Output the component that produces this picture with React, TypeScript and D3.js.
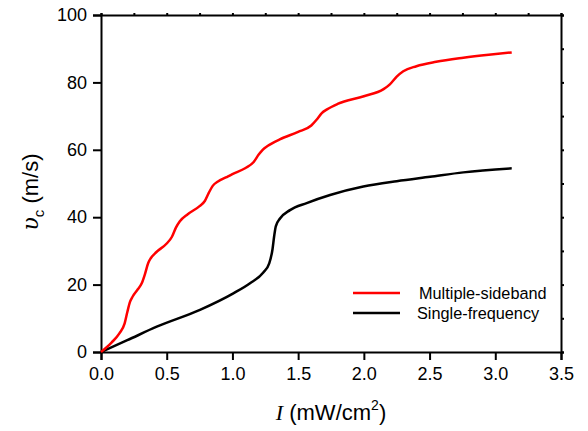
import React, { useEffect, useRef } from 'react';
import * as d3 from 'd3';

// Multiple-sideband curve (red)
const msbI = [0, 0.08, 0.14, 0.18, 0.2, 0.22, 0.24, 0.28, 0.31, 0.335, 0.36, 0.38, 0.42, 0.5, 0.54, 0.57, 0.6, 0.66, 0.75, 0.79, 0.82, 0.85, 0.89, 0.95, 1.0, 1.1, 1.16, 1.2, 1.23, 1.27, 1.36, 1.5, 1.6, 1.64, 1.68, 1.72, 1.8, 2.0, 2.15, 2.2, 2.25, 2.3, 2.4, 2.55, 2.757, 2.95, 3.125];
const msbV = [0, 2.8, 5.5, 8.5, 11.8, 14.8, 16.4, 18.6, 20.4, 23.2, 26.5, 27.9, 29.6, 32.2, 34.2, 36.9, 38.8, 40.9, 43.3, 44.8, 47.2, 49.3, 50.6, 51.8, 52.8, 54.6, 56.3, 58.6, 60, 61.2, 63.1, 65.3, 67.2, 68.9, 70.9, 72, 73.6, 75.9, 78, 79.5, 81.7, 83.3, 84.8, 86.1, 87.3, 88.2, 88.9];

// Single-frequency curve (black)
const sfI = [0, 0.2, 0.424, 0.753, 1.007, 1.134, 1.235, 1.28, 1.305, 1.318, 1.33, 1.362, 1.438, 1.565, 1.743, 1.996, 2.25, 2.504, 2.757, 3.125];
const sfV = [0, 3.5, 7.5, 12.5, 17.4, 20.4, 23.6, 26.3, 30.5, 34.5, 37.3, 39.6, 42.1, 44.2, 46.6, 49.1, 50.7, 52, 53.3, 54.5];

const xTicks = [0, 0.5, 1.0, 1.5, 2.0, 2.5, 3.0, 3.5];
const yTicks = [0, 20, 40, 60, 80, 100];
const seriesNames = ['Multiple-sideband', 'Single-frequency'];

export default function App() {
  const ref = useRef<SVGSVGElement>(null);

  useEffect(() => {
    const svg = d3.select(ref.current);
    svg.selectAll('*').remove();

    const margin = { top: 15, right: 27, bottom: 79, left: 101 };
    const W = 588, H = 431;
    const x = d3.scaleLinear().domain([0, 3.5]).range([margin.left, W - margin.right]);
    const y = d3.scaleLinear().domain([0, 100]).range([H - margin.bottom, margin.top]);
    const font = 'Liberation Sans, Arial, sans-serif';

    // bottom axis
    const xAx = svg.append('g').attr('transform', `translate(0,${y(0)})`);
    xAx.call(d3.axisBottom(x).tickValues(d3.range(0, 3.51, 0.25)).tickSize(4).tickFormat(() => ''));
    xAx.call(d3.axisBottom(x).tickValues(xTicks).tickSize(8).tickFormat(d3.format('.1f')));
    // left axis
    const yAx = svg.append('g').attr('transform', `translate(${x(0)},0)`);
    yAx.call(d3.axisLeft(y).tickValues(d3.range(0, 101, 10)).tickSize(4).tickFormat(() => ''));
    yAx.call(d3.axisLeft(y).tickValues(yTicks).tickSize(8).tickFormat(d3.format('d')));
    // top and right axes
    svg.append('g').attr('transform', `translate(0,${y(100)})`)
      .call(d3.axisTop(x).tickValues(d3.range(0, 3.51, 0.25)).tickSize(2).tickFormat(() => ''));
    svg.append('g').attr('transform', `translate(${x(3.5)},0)`)
      .call(d3.axisRight(y).tickValues(d3.range(0, 101, 10)).tickSize(3).tickFormat(() => ''));

    svg.selectAll('.domain').attr('stroke', '#000').attr('stroke-width', 2);
    svg.selectAll('.tick line').attr('stroke', '#000').attr('stroke-width', 2);
    svg.selectAll('.tick text').attr('font-family', font).attr('font-size', 18).attr('fill', '#000');
    xAx.selectAll('.tick text').attr('dy', '0.95em');
    yAx.selectAll('.tick text').attr('x', -14);

    const line = d3.line<[number, number]>()
      .x(d => x(d[0]))
      .y(d => y(d[1]))
      .curve(d3.curveMonotoneX);

    const red: [number, number][] = msbI.map((v, i) => [v, msbV[i]]);
    const black: [number, number][] = sfI.map((v, i) => [v, sfV[i]]);

    svg.append('path').datum(black).attr('fill', 'none').attr('stroke', '#000')
      .attr('stroke-width', 2.5).attr('d', line);
    svg.append('path').datum(red).attr('fill', 'none').attr('stroke', '#ff0000')
      .attr('stroke-width', 2.5).attr('d', line);

    // legend
    const colors = ['#ff0000', '#000'];
    seriesNames.forEach((name, i) => {
      const ly = 293 + i * 20;
      svg.append('line').attr('x1', 353).attr('x2', 400).attr('y1', ly).attr('y2', ly)
        .attr('stroke', colors[i]).attr('stroke-width', 2.5);
      svg.append('text').attr('x', i === 0 ? 419 : 417).attr('y', ly + 5.5)
        .attr('font-family', font).attr('font-size', 16.3).text(name);
    });

    // x label
    const xl = svg.append('text').attr('x', 331).attr('y', 420).attr('text-anchor', 'middle')
      .attr('font-family', font).attr('font-size', 22);
    xl.append('tspan').attr('font-family', 'Liberation Serif, Times New Roman, serif')
      .attr('font-style', 'italic').text('I');
    xl.append('tspan').text(' (mW/cm');
    xl.append('tspan').attr('font-size', 14).attr('dy', -10).text('2');
    xl.append('tspan').attr('dy', 10).text(')');

    // y label
    const yl = svg.append('text').attr('transform', 'translate(38,192) rotate(-90)')
      .attr('text-anchor', 'middle').attr('font-family', font).attr('font-size', 22);
    yl.append('tspan').attr('font-family', 'DejaVu Serif, serif').attr('font-style', 'italic').text('υ');
    yl.append('tspan').attr('font-size', 15).attr('dy', 6).text('c');
    yl.append('tspan').attr('dy', -6).text(' (m/s)');
  }, []);

  return (
    <svg ref={ref} width={588} height={431}
      style={{ position: 'absolute', left: 0, top: 0, background: '#fff' }} />
  );
}
